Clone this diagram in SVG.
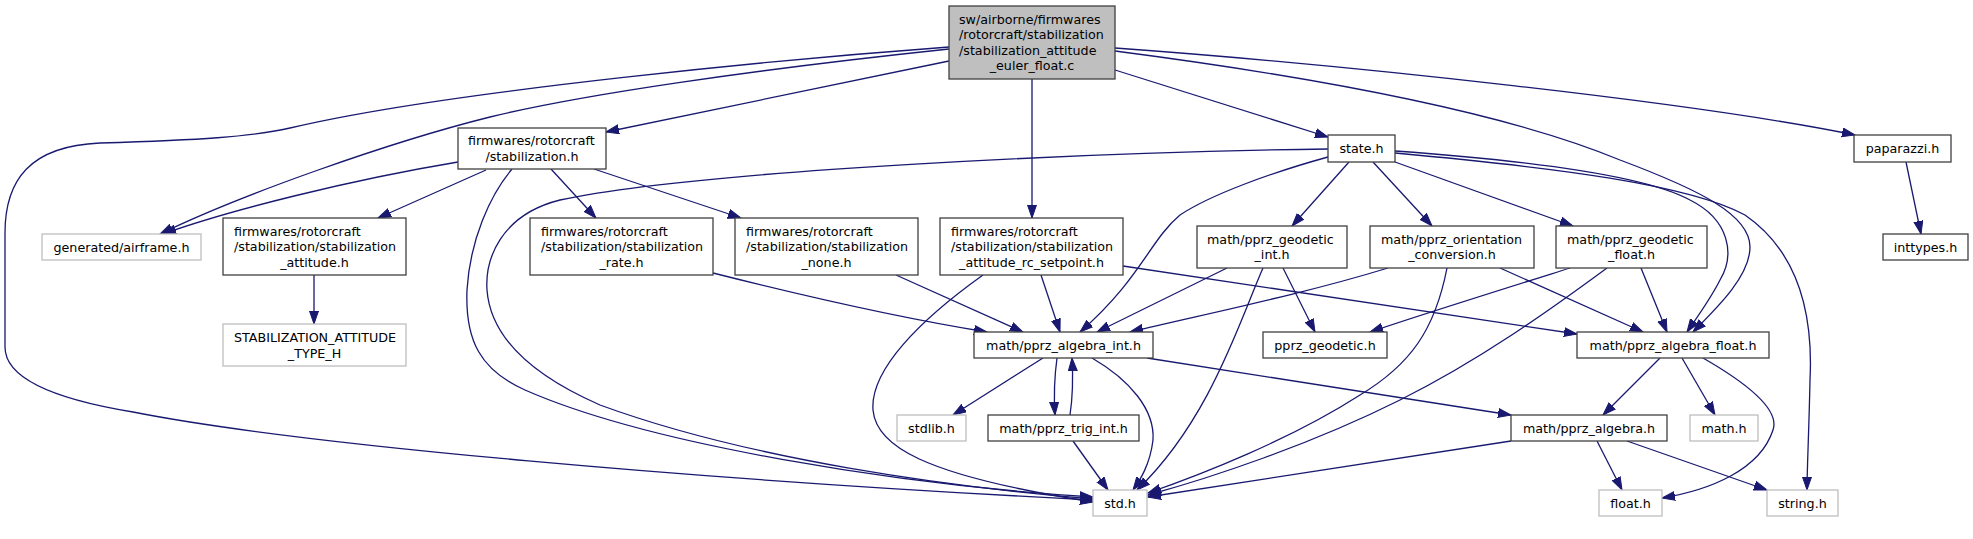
<svg xmlns="http://www.w3.org/2000/svg" width="1973" height="539" viewBox="0 0 1973 539">
<style>
.n{fill:#ffffff;stroke:#404040;stroke-width:1.3}
.g{fill:#ffffff;stroke:#bfbfbf;stroke-width:1.3}
.m{fill:#bfbfbf;stroke:#404040;stroke-width:1.3}
text{font-family:"DejaVu Sans","Liberation Sans",sans-serif;font-size:12.7px;fill:#000}
.c{text-anchor:middle}
.e path{fill:none;stroke:#191970;stroke-width:1.3;marker-end:url(#a)}
</style>
<defs>
<marker id="a" markerWidth="14" markerHeight="11" refX="13" refY="5" orient="auto" markerUnits="userSpaceOnUse">
<path d="M0,0.5 L13,5 L0,9.5 z" fill="#191970" stroke="#191970" stroke-width="1"/>
</marker>
</defs>
<rect width="1973" height="539" fill="#ffffff"/>
<g class="e" id="edges">
<path d="M949,61 C 820,88 700,112 606,132"/>
<path d="M949,49 C 750,70 580,95 490,117 C 390,142 240,195 160,234"/>
<path d="M949,47 C 800,58 450,90 290,128 C 250,137 200,140 100,143 C 30,146 5,180 5,233 L5,347 C5,380 60,400 133,412 C 300,445 700,480 1093,500"/>
<path d="M1032,79 L1032,218"/>
<path d="M1115,70 L1328,137"/>
<path d="M1115,48 C 1350,65 1700,103 1855,135"/>
<path d="M1115,51 C 1300,75 1500,110 1620,160 C 1700,190 1750,215 1750,247 C 1750,275 1720,305 1693,332"/>
<path d="M1395,151 C 1550,162 1650,178 1690,200 C 1730,220 1735,255 1720,280 C 1710,300 1695,320 1687,332"/>
<path d="M1395,153 C 1560,168 1690,185 1745,215 C 1810,260 1812,340 1810,380 C 1809,430 1807,470 1807,490"/>
<path d="M1395,162 L1573,226"/>
<path d="M1373,162 L1432,226"/>
<path d="M1349,162 L1292,226"/>
<path d="M1328,157 C 1270,173 1210,195 1180,215 C 1150,240 1140,280 1080,332"/>
<path d="M1328,149 C 1100,152 700,170 560,200 C 500,215 485,260 487,290 C 490,330 520,370 600,405 C 750,460 950,487 1093,499"/>
<path d="M512,169 C 490,195 470,240 467,290 C 465,340 480,370 525,390 C 650,445 900,485 1093,497"/>
<path d="M983,275 C 920,320 870,370 873,410 C 876,445 920,475 1093,502"/>
<path d="M713,273 C 800,295 900,318 987,332"/>
<path d="M896,275 L1023,332"/>
<path d="M1041,275 L1060,332"/>
<path d="M1123,266 L1577,334"/>
<path d="M1227,268 L1097,332"/>
<path d="M1263,268 C 1240,320 1210,420 1137,490"/>
<path d="M1283,268 L1315,332"/>
<path d="M1388,268 C 1300,295 1200,315 1130,332"/>
<path d="M1447,268 C 1435,330 1410,365 1360,395 C 1290,440 1200,475 1148,493"/>
<path d="M1500,268 L1643,332"/>
<path d="M1570,268 C 1500,290 1420,315 1370,332"/>
<path d="M1607,268 C 1550,310 1480,360 1400,400 C 1310,445 1210,478 1148,495"/>
<path d="M1641,268 L1667,332"/>
<path d="M1043,358 L953,415"/>
<path d="M1057,358 C 1054,380 1054,400 1055,415"/>
<path d="M1070,415 C 1073,395 1073,375 1072,358"/>
<path d="M1092,358 C 1130,380 1155,410 1153,440 C 1150,465 1140,480 1133,490"/>
<path d="M1147,358 L1511,415"/>
<path d="M1073,441 L1108,490"/>
<path d="M1511,441 L1148,497"/>
<path d="M1660,358 L1603,415"/>
<path d="M1682,358 L1715,415"/>
<path d="M1703,358 C 1750,385 1780,410 1773,430 C 1760,470 1710,490 1662,498"/>
<path d="M1597,441 L1622,490"/>
<path d="M1627,441 L1767,490"/>
<path d="M1906,162 L1921,234"/>
<path d="M458,162 C 350,180 230,210 163,234"/>
<path d="M486,170 L378,218"/>
<path d="M551,169 L596,218"/>
<path d="M594,169 L741,218"/>
<path d="M314,275 L314,324"/>
</g>
<g id="node_main"><rect class="m" x="949" y="6" width="166" height="73"/>
<text x="959" y="23.5">sw/airborne/firmwares</text><text x="959" y="39">/rotorcraft/stabilization</text><text x="959" y="54.5">/stabilization_attitude</text><text class="c" x="1032" y="70">_euler_float.c</text></g>
<g id="node_stabilization"><rect class="n" x="458" y="128" width="148" height="41"/>
<text x="468" y="144.5">firmwares/rotorcraft</text><text class="c" x="532" y="160.5">/stabilization.h</text></g>
<g id="node_airframe"><rect class="g" x="42" y="234" width="159" height="26"/>
<text class="c" x="121.5" y="251.5">generated/airframe.h</text></g>
<g id="node_stab_attitude"><rect class="n" x="223" y="218" width="183" height="57"/>
<text x="234" y="235.5">firmwares/rotorcraft</text><text x="234" y="251">/stabilization/stabilization</text><text class="c" x="314.5" y="266.5">_attitude.h</text></g>
<g id="node_type_h"><rect class="g" x="223" y="324" width="183" height="42"/>
<text x="234" y="341.5">STABILIZATION_ATTITUDE</text><text class="c" x="314.5" y="357.5">_TYPE_H</text></g>
<g id="node_rate"><rect class="n" x="530" y="218" width="183" height="57"/>
<text x="541" y="235.5">firmwares/rotorcraft</text><text x="541" y="251">/stabilization/stabilization</text><text class="c" x="621.5" y="266.5">_rate.h</text></g>
<g id="node_none"><rect class="n" x="735" y="218" width="183" height="57"/>
<text x="746" y="235.5">firmwares/rotorcraft</text><text x="746" y="251">/stabilization/stabilization</text><text class="c" x="826.5" y="266.5">_none.h</text></g>
<g id="node_rc_setpoint"><rect class="n" x="940" y="218" width="183" height="57"/>
<text x="951" y="235.5">firmwares/rotorcraft</text><text x="951" y="251">/stabilization/stabilization</text><text class="c" x="1031.5" y="266.5">_attitude_rc_setpoint.h</text></g>
<g id="node_state"><rect class="n" x="1328" y="135" width="67" height="27"/>
<text class="c" x="1361.5" y="152.5">state.h</text></g>
<g id="node_paparazzi"><rect class="n" x="1854" y="135" width="97" height="27"/>
<text class="c" x="1902.5" y="152.5">paparazzi.h</text></g>
<g id="node_inttypes"><rect class="n" x="1883" y="234" width="85" height="26"/>
<text class="c" x="1925.5" y="251.5">inttypes.h</text></g>
<g id="node_geodetic_int"><rect class="n" x="1197" y="226" width="150" height="42"/>
<text x="1207" y="243.5">math/pprz_geodetic</text><text class="c" x="1272" y="259">_int.h</text></g>
<g id="node_orientation"><rect class="n" x="1370" y="226" width="164" height="42"/>
<text x="1381" y="243.5">math/pprz_orientation</text><text class="c" x="1452" y="259">_conversion.h</text></g>
<g id="node_geodetic_float"><rect class="n" x="1556" y="226" width="151" height="42"/>
<text x="1567" y="243.5">math/pprz_geodetic</text><text class="c" x="1631.5" y="259">_float.h</text></g>
<g id="node_algebra_int"><rect class="n" x="974" y="332" width="179" height="26"/>
<text class="c" x="1063.5" y="349.5">math/pprz_algebra_int.h</text></g>
<g id="node_pprz_geodetic"><rect class="n" x="1263" y="332" width="124" height="26"/>
<text class="c" x="1325" y="349.5">pprz_geodetic.h</text></g>
<g id="node_algebra_float"><rect class="n" x="1577" y="332" width="192" height="26"/>
<text class="c" x="1673" y="349.5">math/pprz_algebra_float.h</text></g>
<g id="node_stdlib"><rect class="g" x="897" y="415" width="69" height="26"/>
<text class="c" x="931.5" y="432.5">stdlib.h</text></g>
<g id="node_trig_int"><rect class="n" x="988" y="415" width="151" height="26"/>
<text class="c" x="1063.5" y="432.5">math/pprz_trig_int.h</text></g>
<g id="node_algebra"><rect class="n" x="1511" y="415" width="156" height="26"/>
<text class="c" x="1589" y="432.5">math/pprz_algebra.h</text></g>
<g id="node_math"><rect class="g" x="1690" y="415" width="68" height="26"/>
<text class="c" x="1724" y="432.5">math.h</text></g>
<g id="node_std"><rect class="g" x="1093" y="490" width="54" height="26"/>
<text class="c" x="1120" y="507.5">std.h</text></g>
<g id="node_float"><rect class="g" x="1599" y="490" width="63" height="26"/>
<text class="c" x="1630.5" y="507.5">float.h</text></g>
<g id="node_string"><rect class="g" x="1767" y="490" width="71" height="26"/>
<text class="c" x="1802.5" y="507.5">string.h</text></g>
</svg>
